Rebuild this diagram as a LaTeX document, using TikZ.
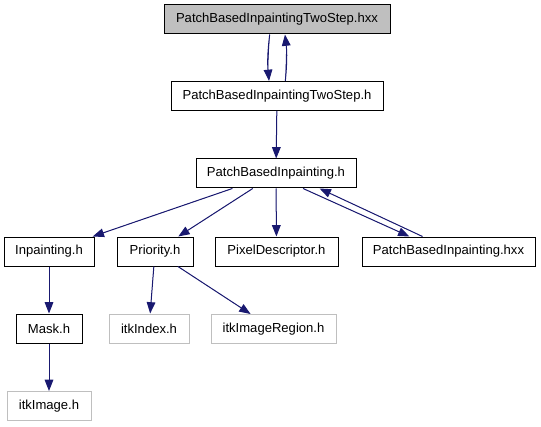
\documentclass[tikz,border=0pt]{standalone}
\usepackage{fontspec}
\setmainfont{Liberation Sans}
\usetikzlibrary{arrows.meta}
\definecolor{Dox_Edge}{HTML}{191970}
\definecolor{Dox_Gray}{HTML}{BFBFBF}

\begin{document}
\begin{tikzpicture}[x=0.75pt, y=-0.75pt,
  file/.style={draw=black, line width=0.75pt, minimum height=21.75pt, inner sep=1pt, font=\fontsize{9.8}{11}\selectfont},
  extfile/.style={file, draw=Dox_Gray},
  dep/.style={-{Triangle[length=8.5pt, width=6.5pt]}, draw=Dox_Edge, fill=Dox_Edge, line width=0.75pt}]
\useasboundingbox (0,0) rectangle (541,427);
% Files of the project
\node[file, fill=Dox_Gray, minimum width=169.5pt] (twostephxx) at (277,19.5) {PatchBasedInpaintingTwoStep.hxx};
\node[file, minimum width=159pt] (twosteph) at (277,96) {PatchBasedInpaintingTwoStep.h};
\node[file, minimum width=120pt] (pbih) at (276,173.5) {PatchBasedInpainting.h};
\node[file, minimum width=67.5pt] (inpaintingh) at (49,251.5) {Inpainting.h};
\node[file, minimum width=57pt] (priorityh) at (155,251.5) {Priority.h};
\node[file, minimum width=92.25pt] (pixeldesch) at (276.5,251.5) {PixelDescriptor.h};
\node[file, minimum width=129.75pt] (pbihxx) at (448.5,251.5) {PatchBasedInpainting.hxx};
\node[file, minimum width=49.5pt] (maskh) at (49,328.5) {Mask.h};
% External ITK headers
\node[extfile, minimum width=60pt] (itkindex) at (149,328.5) {itkIndex.h};
\node[extfile, minimum width=93.75pt] (itkregion) at (273.5,329) {itkImageRegion.h};
\node[extfile, minimum width=63pt] (itkimage) at (49,406) {itkImage.h};
% Includes
\draw[dep] (twostephxx.-116) to[bend right=6] (twosteph.118);
\draw[dep] (twosteph.61) to[bend right=6] (twostephxx.-62);
\draw[dep] (twosteph) -- (pbih);
\draw[dep] (pbih) -- (inpaintingh);
\draw[dep] (pbih) -- (priorityh);
\draw[dep] (pbih) -- (pixeldesch);
\draw[dep] (pbih.-29) -- (pbihxx.159);
\draw[dep] (pbihxx.150) -- (pbih.-19);
\draw[dep] (inpaintingh) -- (maskh);
\draw[dep] (priorityh) -- (itkindex);
\draw[dep] (priorityh) -- (itkregion);
\draw[dep] (maskh) -- (itkimage);
\end{tikzpicture}
\end{document}
